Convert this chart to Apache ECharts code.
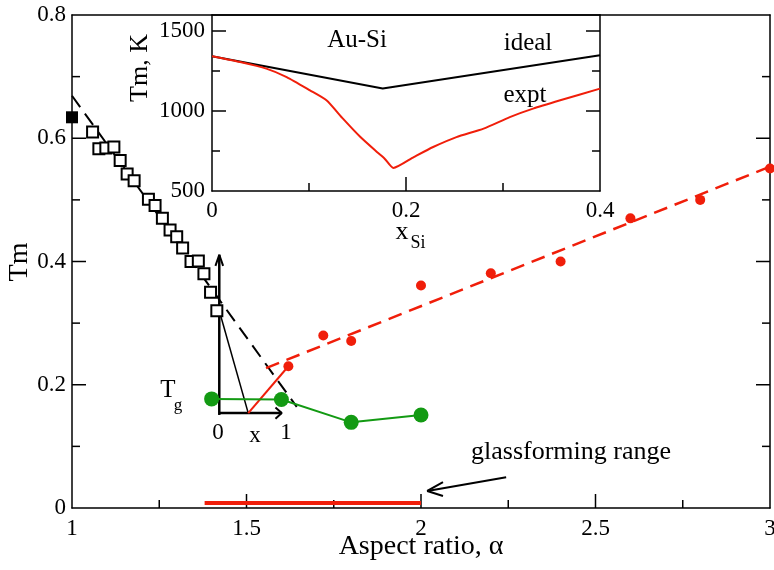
<!DOCTYPE html>
<html><head><meta charset="utf-8">
<script src="https://cdn.jsdelivr.net/npm/echarts@6/dist/echarts.min.js"></script>
<style>html,body{margin:0;padding:0;background:#fff}#c{width:774px;height:570px}</style>
</head><body><div id="c"></div>
<script>
// ---- main panel data ----
const squareX = [1.059,1.077,1.097,1.120,1.138,1.158,1.178,1.219,1.238,1.259,1.281,1.300,1.317,1.341,1.362,1.378,1.397,1.415];
const squareY = [0.610,0.583,0.584,0.586,0.564,0.542,0.531,0.501,0.491,0.470,0.451,0.440,0.422,0.400,0.401,0.380,0.350,0.320];
const filledSquare = [[1.0,0.634]];
const blackFit = [[1.0,0.669],[1.644,0.164]];
const redX = [1.62,1.72,1.80,2.0,2.2,2.4,2.6,2.8,3.0];
const redY = [0.230,0.280,0.271,0.361,0.381,0.400,0.470,0.500,0.551];
const redFit = [[1.556,0.227],[3.0,0.554]];
const tgX = [1.40,1.60,1.80,2.00];
const tgY = [0.177,0.176,0.139,0.151];
const glassRange = [[1.38,0.008],[2.0,0.008]];
const arrowShaft = [[2.244,0.0498],[2.018,0.0276]];
const arrowHead = [[2.063,0.042],[2.018,0.0276],[2.063,0.0195]];
// schematic (inner sketch)
const schemVert = [[1.422,0.151],[1.422,0.411]];
const schemVertHead = [[1.411,0.393],[1.422,0.411],[1.433,0.393]];
const schemHorz = [[1.422,0.154],[1.601,0.154]];
const schemHorzHead = [[1.583,0.163],[1.601,0.154],[1.583,0.145]];
const schemBlack = [[1.422,0.320],[1.505,0.154]];
const schemRed = [[1.505,0.154],[1.62,0.230]];
// ---- inset data ----
const idealX = [0.0,0.176,0.4];
const idealT = [1342,1140,1348];
const exptX = [0.0,0.029,0.056,0.077,0.101,0.118,0.135,0.153,0.170,0.178,0.187,0.208,0.228,0.252,0.280,0.307,0.331,0.359,0.4];
const exptT = [1342,1306,1265,1212,1129,1067,952,837,744,702,644,712,775,837,890,962,1015,1067,1140];
// tick values
const mainXTicks = {min:1,max:3,interval:0.5};
const mainYTicks = {min:0,max:0.8,interval:0.2};
const insetXTicks = {min:0,max:0.4,interval:0.2};
const insetYTicks = {min:500,max:1600,interval:500};
const mainXMajor = [1.5,2,2.5], mainXMinor = [1.25,1.75,2.25,2.75];
const mainYMajor = [0.2,0.4,0.6], mainYMinor = [0.1,0.3,0.5,0.7];
const insetXMajor = [0.2], insetXMinor = [0.1,0.3];
const insetYMajor = [1000,1500], insetYMinor = [750,1250];

const FF = 'Liberation Serif';
const RED = '#f01e0a', GREEN = '#139a13';
const zip = (a,b)=>a.map((v,i)=>[v,b[i]]);
const LBL = (m,extra)=>Object.assign({show:true,color:'#000',fontFamily:FF,fontSize:23,margin:m,formatter:v=>String(+(+v).toFixed(2))},extra||{});
const MAINRECT = {left:72,top:15,width:698,height:493,outerBoundsMode:'none',containLabel:false};
const INSETRECT = {left:212,top:15,width:388,height:176,outerBoundsMode:'none',containLabel:false};
const MAJ = 14, MIN = 8;

function axisBase(extra){
  return Object.assign({
    type:'value',
    axisLine:{show:true,onZero:false,lineStyle:{color:'#000',width:1.5}},
    axisTick:{show:false},
    minorTick:{show:false},
    splitLine:{show:false},
    axisLabel:{show:false}
  },extra);
}
function dataAxis(extra){
  return Object.assign({type:'value',show:false,splitLine:{show:false}},extra);
}
function seg(data,color,width,dash,idx){
  return {type:'line',xAxisIndex:idx||0,yAxisIndex:idx||0,data:data,showSymbol:false,symbol:'none',clip:false,
    lineStyle:{color:color,width:width,type:dash||'solid'},silent:true,z:3};
}
// inward tick marks drawn in data units of each panel
function tickSeries(idx,rect,xr,yr,xMaj,xMin,yMaj,yMin){
  const ux = (xr.max-xr.min)/rect.width, uy = (yr.max-yr.min)/rect.height;
  const out = [];
  xMaj.forEach(v=>out.push(seg([[v,yr.min],[v,yr.min+MAJ*uy]],'#000',1.5,null,idx)));
  xMin.forEach(v=>out.push(seg([[v,yr.min],[v,yr.min+MIN*uy]],'#000',1.5,null,idx)));
  yMaj.forEach(v=>{out.push(seg([[xr.min,v],[xr.min+MAJ*ux,v]],'#000',1.5,null,idx));
                   out.push(seg([[xr.max,v],[xr.max-MAJ*ux,v]],'#000',1.5,null,idx));});
  yMin.forEach(v=>{out.push(seg([[xr.min,v],[xr.min+MIN*ux,v]],'#000',1.5,null,idx));
                   out.push(seg([[xr.max,v],[xr.max-MIN*ux,v]],'#000',1.5,null,idx));});
  return out;
}

const chart = echarts.init(document.getElementById('c'));
chart.setOption({
  animation:false,
  backgroundColor:'#fff',
  grid:[Object.assign({},MAINRECT),Object.assign({},INSETRECT),Object.assign({},MAINRECT),Object.assign({},INSETRECT)],
  xAxis:[
    dataAxis(Object.assign({gridIndex:0},mainXTicks)),
    dataAxis(Object.assign({gridIndex:1},insetXTicks)),
    axisBase(Object.assign({gridIndex:2,position:'bottom',axisLabel:LBL(9)},mainXTicks)),
    axisBase(Object.assign({gridIndex:2,position:'top'},mainXTicks)),
    axisBase(Object.assign({gridIndex:3,position:'bottom',axisLabel:LBL(8)},insetXTicks)),
    axisBase(Object.assign({gridIndex:3,position:'top'},insetXTicks))
  ],
  yAxis:[
    dataAxis(Object.assign({gridIndex:0},mainYTicks)),
    dataAxis(Object.assign({gridIndex:1},insetYTicks)),
    axisBase(Object.assign({gridIndex:2,position:'left',axisLabel:LBL(6)},mainYTicks)),
    axisBase(Object.assign({gridIndex:2,position:'right'},mainYTicks)),
    axisBase(Object.assign({gridIndex:3,position:'left',axisLabel:LBL(7,{showMaxLabel:false})},insetYTicks)),
    axisBase(Object.assign({gridIndex:3,position:'right'},insetYTicks))
  ],
  series:[].concat(
    tickSeries(0,MAINRECT,mainXTicks,mainYTicks,mainXMajor,mainXMinor,mainYMajor,mainYMinor),
    tickSeries(1,INSETRECT,insetXTicks,insetYTicks,insetXMajor,insetXMinor,insetYMajor,insetYMinor),
    [
    seg(blackFit,'#000',2,[14,8]),
    seg(redFit,RED,2.5,[14,8]),
    seg(glassRange,RED,4),
    seg(arrowShaft,'#000',2),
    seg(arrowHead,'#000',2),
    seg(schemVert,'#000',2.5),
    seg(schemVertHead,'#000',2),
    seg(schemHorz,'#000',2.5),
    seg(schemHorzHead,'#000',2),
    seg(schemBlack,'#000',1.5),
    seg(schemRed,RED,2),
    {type:'line',xAxisIndex:0,yAxisIndex:0,data:zip(tgX,tgY),symbol:'circle',symbolSize:15,showSymbol:true,
      lineStyle:{color:GREEN,width:2},itemStyle:{color:GREEN,opacity:1},z:4},
    {type:'scatter',xAxisIndex:0,yAxisIndex:0,data:zip(squareX,squareY),symbol:'rect',symbolSize:11,
      itemStyle:{color:'#fff',borderColor:'#000',borderWidth:2,opacity:1},z:5},
    {type:'scatter',xAxisIndex:0,yAxisIndex:0,data:filledSquare,symbol:'rect',symbolSize:12,
      itemStyle:{color:'#000',opacity:1},z:5,clip:false},
    {type:'scatter',xAxisIndex:0,yAxisIndex:0,data:zip(redX,redY),symbol:'circle',symbolSize:10,
      itemStyle:{color:RED,opacity:1},z:5,clip:false},
    {type:'line',xAxisIndex:1,yAxisIndex:1,data:zip(idealX,idealT),symbol:'none',lineStyle:{color:'#000',width:2},z:7},
    {type:'line',xAxisIndex:1,yAxisIndex:1,data:zip(exptX,exptT),symbol:'none',smooth:0.2,lineStyle:{color:RED,width:2},z:7}
    ]),
  graphic:[
    {type:'text',x:421,y:547,z:100,style:{text:'Aspect ratio, α',fontFamily:FF,fontSize:28,fill:'#000',align:'center',verticalAlign:'middle'}},
    {type:'text',x:20,y:262,rotation:Math.PI/2,z:100,style:{text:'Tm',fontFamily:FF,fontSize:28,fill:'#000',align:'center',verticalAlign:'middle'}},
    {type:'text',x:140,y:68,rotation:Math.PI/2,z:100,style:{text:'Tm, K',fontFamily:FF,fontSize:26,fill:'#000',align:'center',verticalAlign:'middle'}},
    {type:'text',x:357,y:40,z:100,style:{text:'Au-Si',fontFamily:FF,fontSize:25,fill:'#000',align:'center',verticalAlign:'middle'}},
    {type:'text',x:528,y:43,z:100,style:{text:'ideal',fontFamily:FF,fontSize:25,fill:'#000',align:'center',verticalAlign:'middle'}},
    {type:'text',x:525,y:95,z:100,style:{text:'expt',fontFamily:FF,fontSize:25,fill:'#000',align:'center',verticalAlign:'middle'}},
    {type:'text',x:402,y:232,z:100,style:{text:'x',fontFamily:FF,fontSize:26,fill:'#000',align:'center',verticalAlign:'middle'}},
    {type:'text',x:418,y:243,z:100,style:{text:'Si',fontFamily:FF,fontSize:18,fill:'#000',align:'center',verticalAlign:'middle'}},
    {type:'text',x:571,y:452,z:100,style:{text:'glassforming range',fontFamily:FF,fontSize:26,fill:'#000',align:'center',verticalAlign:'middle'}},
    {type:'text',x:168,y:390,z:100,style:{text:'T',fontFamily:FF,fontSize:25,fill:'#000',align:'center',verticalAlign:'middle'}},
    {type:'text',x:178,y:406,z:100,style:{text:'g',fontFamily:FF,fontSize:17,fill:'#000',align:'center',verticalAlign:'middle'}},
    {type:'text',x:218,y:433,z:100,style:{text:'0',fontFamily:FF,fontSize:23,fill:'#000',align:'center',verticalAlign:'middle'}},
    {type:'text',x:255,y:436,z:100,style:{text:'x',fontFamily:FF,fontSize:23,fill:'#000',align:'center',verticalAlign:'middle'}},
    {type:'text',x:286,y:433,z:100,style:{text:'1',fontFamily:FF,fontSize:23,fill:'#000',align:'center',verticalAlign:'middle'}}
  ]
});
</script></body></html>
